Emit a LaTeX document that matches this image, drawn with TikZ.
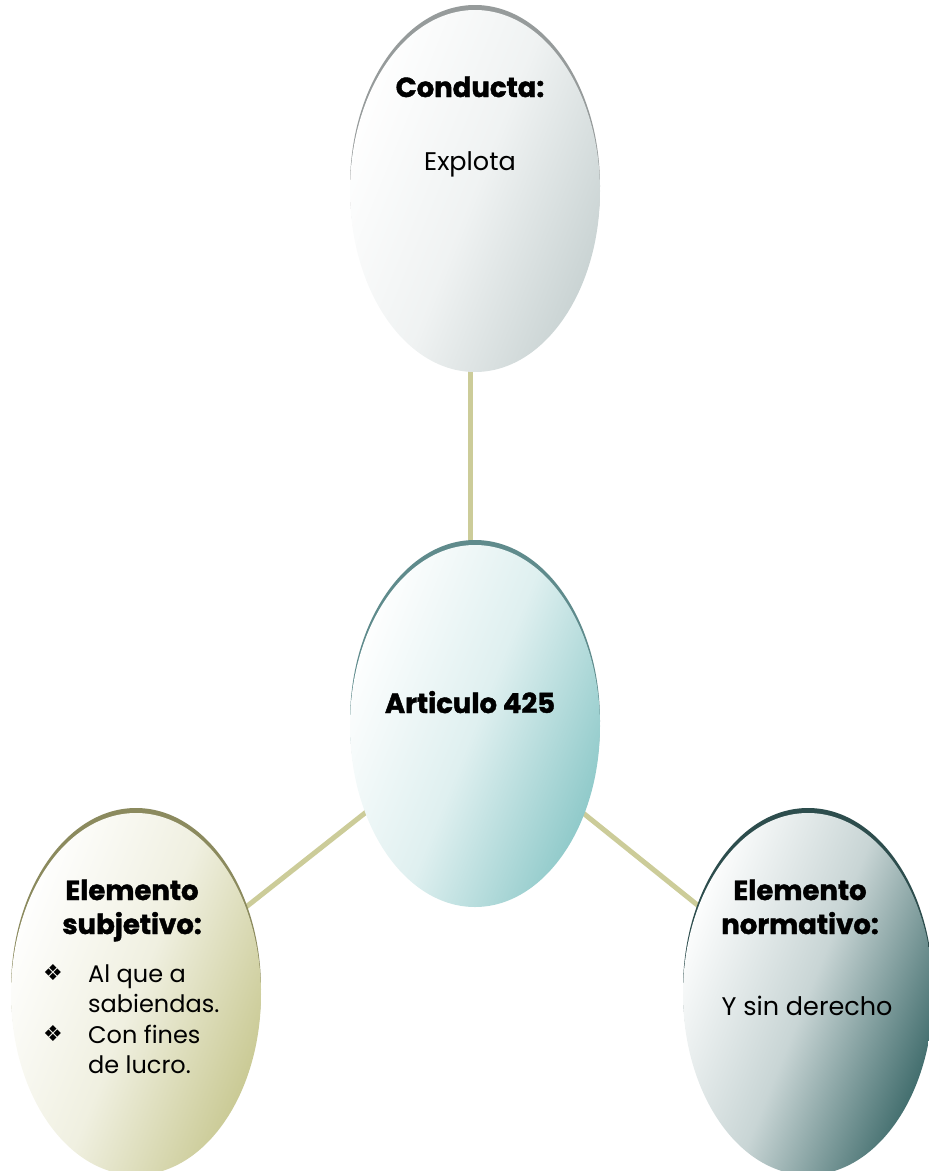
\documentclass[tikz,border=0pt]{standalone}
\usepackage{fontspec}
\setmainfont{Poppins}
\newfontfamily\headfont{Poppins}[BoldFeatures={FakeBold=1.5}]
\newfontfamily\dejavu{DejaVu Sans}
\usetikzlibrary{shapes.geometric,backgrounds}
\definecolor{linkc}{RGB}{204,204,153}
\definecolor{capA}{RGB}{150,155,155}
\definecolor{fillA}{RGB}{200,210,210}
\definecolor{capB}{RGB}{95,139,140}
\definecolor{fillB}{RGB}{140,200,200}
\definecolor{capC}{RGB}{139,138,94}
\definecolor{fillC}{RGB}{200,200,145}
\definecolor{capD}{RGB}{45,77,77}
\definecolor{fillD}{RGB}{60,105,105}
\begin{document}
\begin{tikzpicture}[x=1pt,y=1pt,
  bubble/.style={ellipse, minimum width=250pt, minimum height=362pt, inner sep=0pt, outer sep=0pt, draw=none},
  capbub/.style={bubble, fill=#1},
  shadebub/.style={bubble, top color=white, bottom color=#1, middle color=#1!28!white, shading angle=68},
  link/.style={draw=linkc, line width=5pt},
  head/.style={font=\headfont\bfseries\fontsize{27.5}{32}\selectfont, anchor=base, inner sep=0pt},
  body/.style={font=\fontsize{25.5}{30}\selectfont, anchor=base, inner sep=0pt},
  bodyl/.style={font=\fontsize{24}{30}\selectfont, inner sep=0pt, anchor=base west},
  bullet/.style={font=\dejavu\fontsize{22}{24}\selectfont, anchor=base west, inner sep=0pt}]
\useasboundingbox (0,0) rectangle (929,-1171);

% top
\node[capbub=capA] (topcap) at (475,-186) {};
\node[shadebub=fillA] (top) at (475,-191) {};
% middle
\node[capbub=capB] (midcap) at (475,-721) {};
\node[shadebub=fillB] (mid) at (475,-726) {};
% left
\node[capbub=capC] (leftcap) at (136,-989) {};
\node[shadebub=fillC] (left) at (136,-994) {};
% right
\node[capbub=capD] (rightcap) at (808,-989) {};
\node[shadebub=fillD] (right) at (808,-994) {};

\begin{scope}[on background layer]
  \draw[link] ([xshift=-5pt]top.center) -- ([xshift=-5pt]mid.center);
  \draw[link] (mid.center) -- (left.center);
  \draw[link] (mid.center) -- (right.center);
\end{scope}

\node[head] (t1) at (470,-97) {Conducta:};
\node[body] (t2) at (470,-170) {Explota};

\node[head] (c1) at (470,-713) {Articulo 425};

\node[head] (l1) at (132,-900) {Elemento};
\node[head] (l2) at (132,-934) {subjetivo:};
\node[bullet] (lb1) at (43,-980) {❖};
\node[bodyl] (l3) at (88,-982) {Al que a};
\node[bodyl] (l4) at (88,-1012) {sabiendas.};
\node[bullet] (lb2) at (43,-1041) {❖};
\node[bodyl] (l5) at (88,-1043) {Con fines};
\node[bodyl] (l6) at (88,-1073) {de lucro.};

\node[head] (r1) at (800,-900) {Elemento};
\node[head] (r2) at (800,-934) {normativo:};
\node[body] (r3) at (807,-1015) {Y sin derecho};
\end{tikzpicture}
\end{document}
